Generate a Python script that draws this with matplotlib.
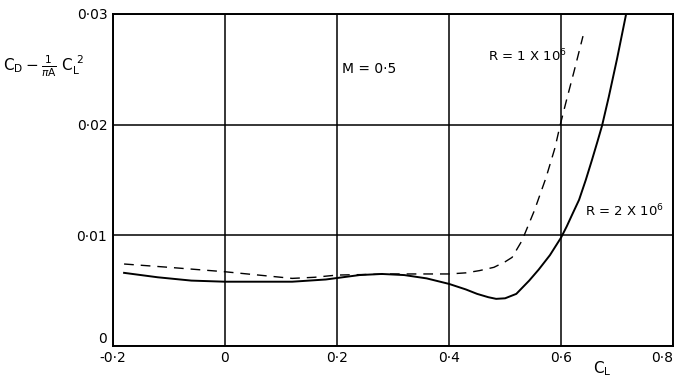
import matplotlib
matplotlib.use("Agg")
import matplotlib.pyplot as plt
import matplotlib.ticker as ticker

# drag curves, C_D - C_L^2/(pi A) against C_L, M = 0.5
CL_R2 = [-0.18, -0.12, -0.06, 0.0, 0.06, 0.12, 0.18, 0.24, 0.28, 0.32, 0.36,
         0.40, 0.43, 0.45, 0.47, 0.484, 0.50, 0.52, 0.543, 0.56, 0.58, 0.60,
         0.61, 0.62, 0.632, 0.644, 0.655, 0.665, 0.673, 0.685, 0.70, 0.716]
CD_R2 = [0.0066, 0.0062, 0.0059, 0.0058, 0.0058, 0.0058, 0.0060, 0.0064,
         0.0065, 0.0064, 0.0061, 0.0056, 0.0051, 0.0047, 0.0044, 0.00425,
         0.0043, 0.0047, 0.0059, 0.0069, 0.0082, 0.0098, 0.0108, 0.0119,
         0.0132, 0.0150, 0.0168, 0.0185, 0.0199, 0.0225, 0.0260, 0.0300]

CL_R1 = [-0.18, -0.10, 0.0, 0.06, 0.12, 0.16, 0.20, 0.30, 0.40, 0.43, 0.454,
         0.48, 0.50, 0.5125, 0.53, 0.552, 0.573, 0.589, 0.598, 0.609, 0.623,
         0.639]
CD_R1 = [0.0074, 0.0071, 0.0067, 0.0064, 0.0061, 0.0062, 0.0064, 0.0065,
         0.0065, 0.0066, 0.0068, 0.0071, 0.0076, 0.0080, 0.0095, 0.0122,
         0.0152, 0.0179, 0.0199, 0.0221, 0.0248, 0.0280]

X_TICKS = [-0.2, 0.0, 0.2, 0.4, 0.6, 0.8]
X_LABELS = ["-0·2", "0", "0·2", "0·4", "0·6", "0·8"]
Y_TICKS = [0.0, 0.01, 0.02, 0.03]
Y_LABELS = ["0", "0·01", "0·02", "0·03"]

fig = plt.figure(figsize=(6.8, 3.78), dpi=100)
ax = fig.add_axes([0.166, 0.085, 0.824, 0.878])

ax.plot(CL_R2, CD_R2, color="black", linewidth=1.4)
ax.plot(CL_R1, CD_R1, color="black", linewidth=1.0, dashes=(7, 5))

ax.set_xlim(-0.2, 0.8)
ax.set_ylim(0, 0.03)
ax.xaxis.set_major_locator(ticker.FixedLocator(X_TICKS))
ax.yaxis.set_major_locator(ticker.FixedLocator(Y_TICKS))
ax.set_xticklabels(X_LABELS)
ax.set_yticklabels(Y_LABELS)
ax.tick_params(length=0, labelsize=10, pad=4)
ax.get_xticklabels()[-1].set_ha("right")
ax.get_yticklabels()[0].set_va("bottom")
ax.grid(True, color="black", linewidth=1.1)
for s in ax.spines.values():
    s.set_linewidth(1.4)

ax.text(0.257, 0.0250, "M = 0·5", fontsize=10, ha="center", va="center")
ax.text(0.611, 0.0262, r"R = 1 X 10$^6$", fontsize=9.5, ha="right", va="center")
ax.text(0.643, 0.0122, r"R = 2 X 10$^6$", fontsize=9.5, ha="left", va="center")

fig.text(0.005, 0.825, r"$\mathrm{C_D} - \frac{1}{\pi \mathrm{A}}\ \mathrm{C_L^{\ 2}}$",
         fontsize=11, ha="left", va="center")
fig.text(0.885, 0.025, r"$\mathrm{C_L}$", fontsize=11, ha="center", va="center")

fig.savefig("out.png", dpi=100)
